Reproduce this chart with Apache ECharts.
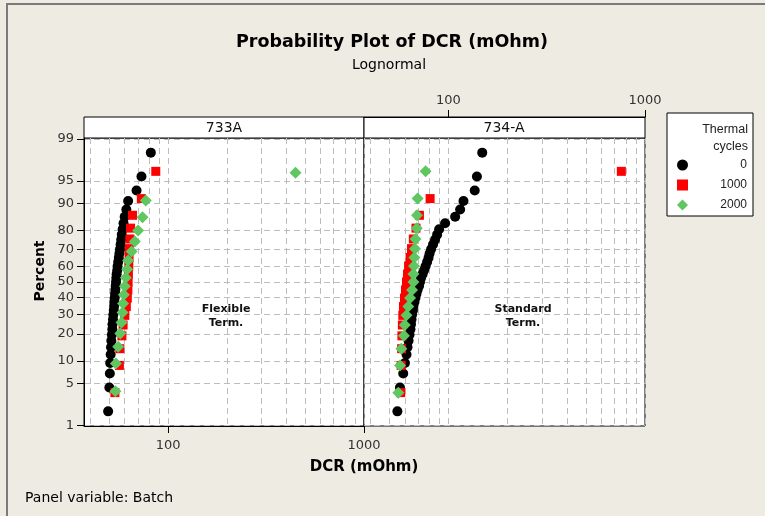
<!DOCTYPE html>
<html>
<head>
<meta charset="utf-8">
<script src="https://cdn.jsdelivr.net/npm/echarts@6/dist/echarts.min.js"></script>
<style>
html, body { margin: 0; padding: 0; background: #eeebe2; }
#main { width: 765px; height: 516px; }
</style>
</head>
<body>
<div id="main"></div>
<script>
// panels and groups
var panels = ['733A', '734-A'];
var cycles = ['0', '1000', '2000'];
var panelNotes = ['Flexible\nTerm.', 'Standard\nTerm.'];

// DCR (mOhm), sorted
var dcr733A_0 = [49.4, 50.1, 50.4, 50.6, 50.9, 51.1, 51.3, 51.6, 51.9, 52.0,
    52.3, 52.5, 52.8, 53.0, 53.2, 53.4, 53.6, 53.8, 54.0, 54.2,
    54.4, 54.6, 55.0, 55.2, 55.6, 56.0, 56.4, 56.8, 57.2, 57.6,
    58.0, 58.6, 59.2, 60.0, 61.2, 62.5, 69.0, 73.1, 81.6];
var dcr733A_1000 = [53.5, 56.4, 56.7, 58.1, 58.9, 60.1, 61.2, 61.9, 62.3, 62.5,
    62.7, 63.0, 63.2, 63.4, 63.8, 64.3, 65.8, 73.0, 86.5];
var dcr733A_2000 = [53.8, 54.1, 55.6, 57.0, 57.8, 58.5, 58.9, 59.4, 60.1, 60.8,
    61.8, 62.5, 65.1, 67.6, 70.3, 74.0, 76.9, 447];
var dcr734A_0 = [55.0, 56.7, 58.9, 60.1, 61.2, 61.9, 62.7, 63.4, 64.1, 64.5,
    64.9, 65.3, 66.0, 66.4, 67.2, 68.0, 68.8, 69.7, 70.9, 71.7,
    72.6, 73.9, 75.2, 76.5, 77.9, 79.2, 80.2, 81.6, 83.5, 85.5,
    87.6, 89.7, 96.2, 108.2, 114.7, 119.3, 136.1, 139.6, 148.6];
var dcr734A_1000 = [57.2, 57.5, 57.8, 58.0, 58.3, 58.6, 59.1, 59.8, 60.5, 61.2,
    61.9, 62.7, 63.8, 64.9, 66.3, 68.4, 71.2, 80.7, 758];
var dcr734A_2000 = [55.6, 56.7, 57.6, 59.4, 60.0, 61.2, 62.5, 63.8, 65.3, 66.4,
    66.4, 66.8, 67.1, 67.6, 68.0, 69.0, 69.2, 69.7, 76.5];

// axis ticks
var pctTicks = [1, 5, 10, 20, 30, 40, 50, 60, 70, 80, 90, 95, 99];
var dcrLabelTicks = [100, 1000];
var dcrGridTicks = [40, 50, 60, 70, 80, 90, 100, 200, 300, 400, 500, 600, 700, 800, 900, 1000];

var symbols = ['circle', 'rect', 'diamond'];
var sizes = [10, 9, 12];
var colors = ['#000000', '#ff0000', '#5fc75f'];

// inverse normal cdf (Acklam)
function normInv(p) {
    var a = [-3.969683028665376e+01, 2.209460984245205e+02, -2.759285104469687e+02, 1.383577518672690e+02, -3.066479806614716e+01, 2.506628277459239e+00];
    var b = [-5.447609879822406e+01, 1.615858368580409e+02, -1.556989798598866e+02, 6.680131188771972e+01, -1.328068155288572e+01];
    var c = [-7.784894002430293e-03, -3.223964580411365e-01, -2.400758277161838e+00, -2.549732539343734e+00, 4.374664141464968e+00, 2.938163982698783e+00];
    var d = [7.784695709041462e-03, 3.224671290700398e-01, 2.445134137142996e+00, 3.754408661907416e+00];
    var pl = 0.02425, q, r;
    if (p < pl) {
        q = Math.sqrt(-2 * Math.log(p));
        return (((((c[0] * q + c[1]) * q + c[2]) * q + c[3]) * q + c[4]) * q + c[5]) / ((((d[0] * q + d[1]) * q + d[2]) * q + d[3]) * q + 1);
    }
    if (p > 1 - pl) {
        q = Math.sqrt(-2 * Math.log(1 - p));
        return -(((((c[0] * q + c[1]) * q + c[2]) * q + c[3]) * q + c[4]) * q + c[5]) / ((((d[0] * q + d[1]) * q + d[2]) * q + d[3]) * q + 1);
    }
    q = p - 0.5; r = q * q;
    return (((((a[0] * r + a[1]) * r + a[2]) * r + a[3]) * r + a[4]) * r + a[5]) * q / (((((b[0] * r + b[1]) * r + b[2]) * r + b[3]) * r + b[4]) * r + 1);
}

// median ranks -> [log10 dcr, z]
function probPoints(vals) {
    var n = vals.length;
    return vals.map(function (v, i) {
        return [Math.log10(v), normInv((i + 1 - 0.3) / (n + 0.4))];
    });
}

var zTicks = pctTicks.map(function (p) { return normInv(p / 100); });
var xLabelTicks = dcrLabelTicks.map(Math.log10);
var xGridTicks = dcrGridTicks.map(Math.log10);
var X_MIN = Math.log10(37.2), X_MAX = 3;
var Z_MIN = -2.34, Z_MAX = 2.34;

var gridDash = { color: '#bdbdbd', type: [6, 4], width: 1 };
var tickFont = { fontFamily: 'DejaVu Sans', fontSize: 13, color: '#333' };

function pctLabel(v) {
    for (var i = 0; i < zTicks.length; i++) {
        if (Math.abs(zTicks[i] - v) < 1e-6) return String(pctTicks[i]);
    }
    return '';
}
function dcrLabel(v) { return String(Math.round(Math.pow(10, v))); }

var myChart = echarts.init(document.getElementById('main'));

var gridAxisX = function (g) {
    return {
        type: 'value', gridIndex: g, min: X_MIN, max: X_MAX, position: 'bottom',
        axisLine: { show: false },
        axisTick: { show: false, customValues: xGridTicks },
        axisLabel: { show: false },
        splitLine: { show: true, lineStyle: gridDash }
    };
};

var data = [
    [dcr733A_0, dcr733A_1000, dcr733A_2000],
    [dcr734A_0, dcr734A_1000, dcr734A_2000]
];

var series = [];
data.forEach(function (panel, p) {
    panel.forEach(function (vals, k) {
        series.push({
            name: cycles[k],
            type: 'scatter',
            xAxisIndex: p * 2,
            yAxisIndex: p,
            symbol: symbols[k],
            symbolSize: sizes[k],
            itemStyle: { color: colors[k], opacity: 1 },
            z: 2 + k,
            data: probPoints(vals)
        });
    });
});

var option = {
    backgroundColor: '#eeebe2',
    animation: false,
    grid: [
        { left: 84, top: 138, width: 280, height: 288, show: true, backgroundColor: '#fff', borderColor: '#000', borderWidth: 1 },
        { left: 364, top: 138, width: 281, height: 288, show: true, backgroundColor: '#fff', borderColor: '#000', borderWidth: 1 }
    ],
    xAxis: [
        gridAxisX(0),
        {
            type: 'value', gridIndex: 0, min: X_MIN, max: X_MAX, position: 'bottom',
            axisLine: { show: true, lineStyle: { color: '#000' } },
            axisTick: { show: true, length: 7, customValues: xLabelTicks, lineStyle: { color: '#000' } },
            axisLabel: { customValues: xLabelTicks, formatter: dcrLabel, margin: 13, textStyle: tickFont },
            splitLine: { show: false }
        },
        gridAxisX(1),
        {
            type: 'value', gridIndex: 1, min: X_MIN, max: X_MAX, position: 'top', offset: 21,
            axisLine: { show: true, lineStyle: { color: '#000' } },
            axisTick: { show: true, length: 7, customValues: xLabelTicks, lineStyle: { color: '#000' } },
            axisLabel: { customValues: xLabelTicks, formatter: dcrLabel, margin: 10, textStyle: tickFont },
            splitLine: { show: false }
        }
    ],
    yAxis: [
        {
            type: 'value', gridIndex: 0, min: Z_MIN, max: Z_MAX,
            axisLine: { show: true, lineStyle: { color: '#000' } },
            axisTick: { show: true, length: 7, customValues: zTicks, lineStyle: { color: '#000' } },
            axisLabel: { customValues: zTicks, formatter: pctLabel, margin: 10, textStyle: tickFont },
            splitLine: { show: true, lineStyle: gridDash }
        },
        {
            type: 'value', gridIndex: 1, min: Z_MIN, max: Z_MAX,
            axisLine: { show: false },
            axisTick: { show: false, customValues: zTicks },
            axisLabel: { show: false },
            splitLine: { show: true, lineStyle: gridDash }
        }
    ],
    legend: {
        data: cycles,
        orient: 'vertical',
        left: 667, top: 113,
        padding: [46, 6, 5, 10],
        itemGap: 8,
        itemWidth: 11, itemHeight: 11,
        backgroundColor: '#fff',
        borderColor: '#000', borderWidth: 1,
        selectedMode: false,
        formatter: function (name) { return '{v|' + name + '}'; },
        textStyle: {
            fontFamily: 'Liberation Sans', fontSize: 12, color: '#222',
            rich: { v: { width: 54, align: 'right', fontFamily: 'Liberation Sans', fontSize: 12, lineHeight: 14, color: '#222' } }
        }
    },
    graphic: [
        { type: 'rect', silent: true, shape: { x: 7, y: 4, width: 800, height: 600 }, style: { fill: 'none', stroke: '#7a7a7a', lineWidth: 2 } },
        { type: 'text', x: 392, y: 42, style: { text: 'Probability Plot of DCR (mOhm)', fontFamily: 'DejaVu Sans', fontSize: 17.5, fontWeight: 'bold', fill: '#000', align: 'center', verticalAlign: 'middle' } },
        { type: 'text', x: 389, y: 65, style: { text: 'Lognormal', fontFamily: 'DejaVu Sans', fontSize: 14, fill: '#000', align: 'center', verticalAlign: 'middle' } },
        { type: 'text', x: 40, y: 271, rotation: Math.PI / 2, style: { text: 'Percent', fontFamily: 'DejaVu Sans', fontSize: 14, fontWeight: 'bold', fill: '#000', align: 'center', verticalAlign: 'middle' } },
        { type: 'rect', shape: { x: 84, y: 117, width: 280, height: 21 }, style: { fill: '#fff', stroke: '#000', lineWidth: 1 } },
        { type: 'rect', shape: { x: 364, y: 117, width: 281, height: 21 }, style: { fill: '#fff', stroke: '#000', lineWidth: 1 } },
        { type: 'text', x: 224, y: 128, style: { text: panels[0], fontFamily: 'DejaVu Sans', fontSize: 14, fill: '#111', align: 'center', verticalAlign: 'middle' } },
        { type: 'text', x: 504, y: 128, style: { text: panels[1], fontFamily: 'DejaVu Sans', fontSize: 14, fill: '#111', align: 'center', verticalAlign: 'middle' } },
        { type: 'text', x: 226, y: 316, z: 10, style: { text: panelNotes[0], fontFamily: 'DejaVu Sans', fontSize: 11, fontWeight: 'bold', lineHeight: 14, fill: '#111', align: 'center', verticalAlign: 'middle' } },
        { type: 'text', x: 523, y: 316, z: 10, style: { text: panelNotes[1], fontFamily: 'DejaVu Sans', fontSize: 11, fontWeight: 'bold', lineHeight: 14, fill: '#111', align: 'center', verticalAlign: 'middle' } },
        { type: 'text', x: 364, y: 467, style: { text: 'DCR (mOhm)', fontFamily: 'DejaVu Sans', fontSize: 15, fontWeight: 'bold', fill: '#000', align: 'center', verticalAlign: 'middle' } },
        { type: 'text', x: 25, y: 498, style: { text: 'Panel variable: Batch', fontFamily: 'DejaVu Sans', fontSize: 14, fill: '#000', align: 'left', verticalAlign: 'middle' } },
        { type: 'text', x: 748, y: 130, z: 10, style: { text: 'Thermal', fontFamily: 'Liberation Sans', fontSize: 12.5, fill: '#222', align: 'right', verticalAlign: 'middle' } },
        { type: 'text', x: 748, y: 147, z: 10, style: { text: 'cycles', fontFamily: 'Liberation Sans', fontSize: 12.5, fill: '#222', align: 'right', verticalAlign: 'middle' } }
    ],
    series: series
};

myChart.setOption(option);
</script>
</body>
</html>
